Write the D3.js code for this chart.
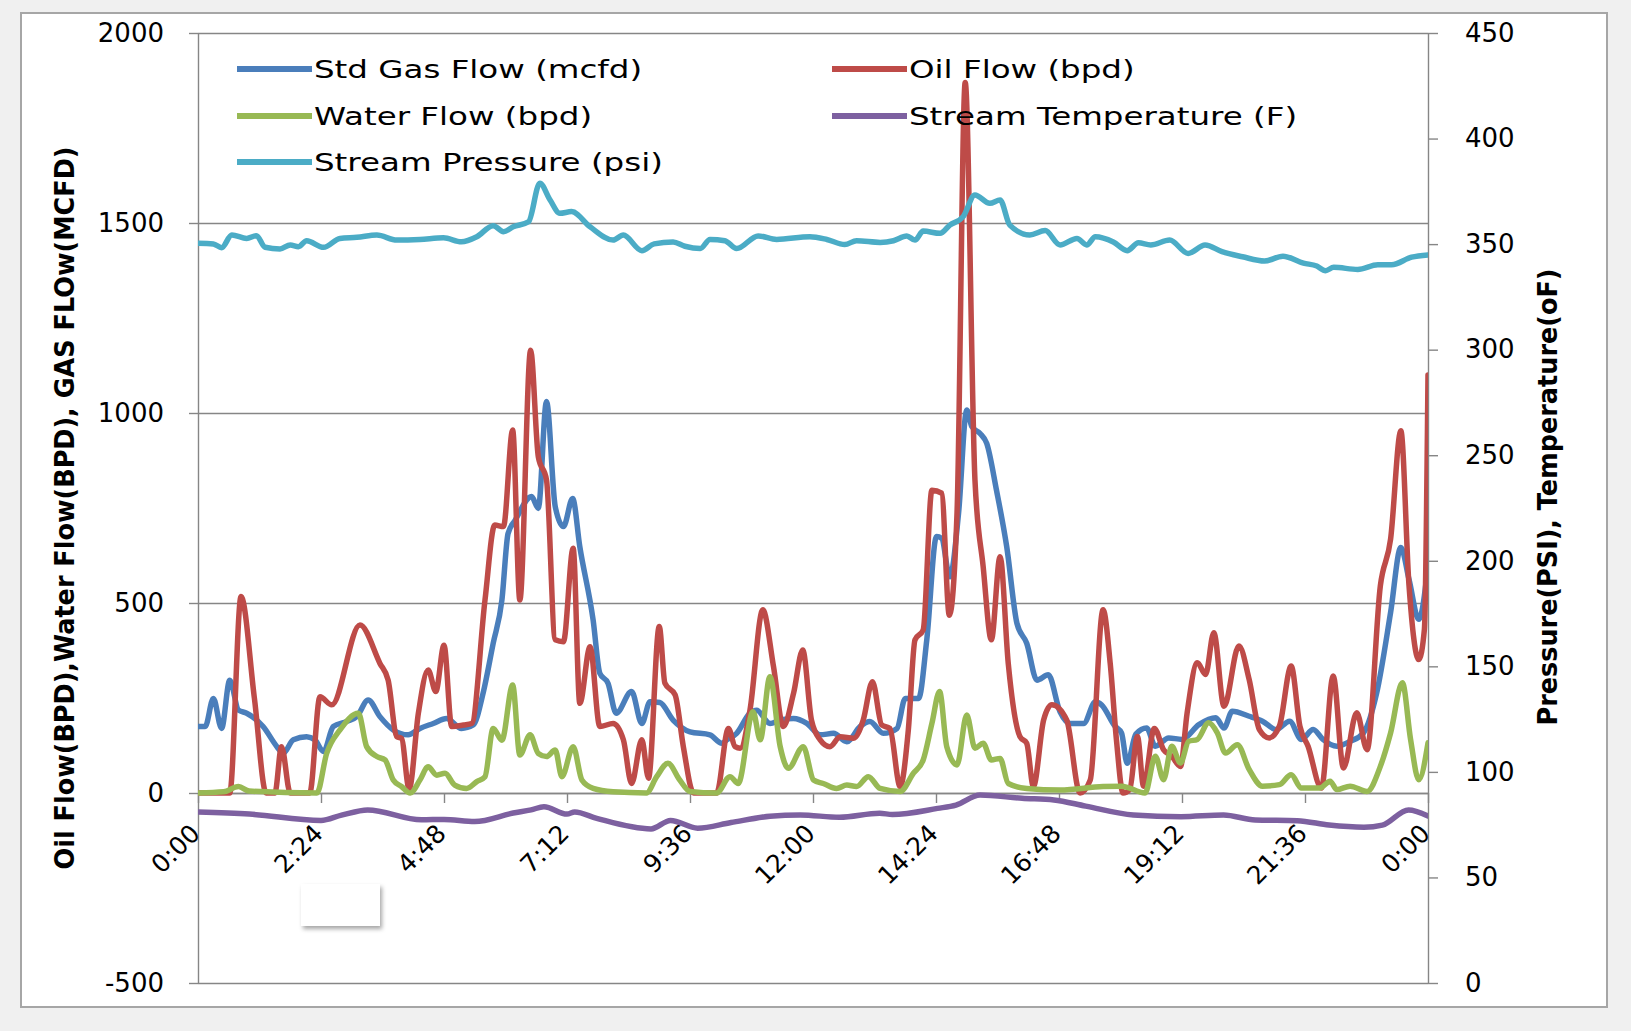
<!DOCTYPE html>
<html>
<head>
<meta charset="utf-8">
<script src="https://cdn.jsdelivr.net/npm/d3@7"></script>
<style>
body{margin:0;background:#f0f0f0;}
text{font-family:"DejaVu Sans",Verdana,sans-serif;fill:#000;}
</style>
</head>
<body>
<svg id="chart" width="1631" height="1031"></svg>
<script>
// values, [hour of day, value]
var gasFlow = [[0,175],[0.14,175],[0.3,249],[0.46,170],[0.62,297],[0.79,218],[0.95,210],[1.27,175],[1.54,122],[1.66,104],[1.86,140],[2.12,148],[2.28,140],[2.45,109],[2.64,175],[2.9,188],[3.1,201],[3.32,245],[3.55,201],[3.81,166],[4.1,153],[4.33,170],[4.59,183],[4.85,196],[5.14,170],[5.37,179],[5.57,267],[5.76,394],[5.93,508],[6.05,683],[6.19,718],[6.51,780],[6.64,749],[6.8,1030],[6.97,754],[7.13,701],[7.31,775],[7.45,648],[7.71,455],[7.84,315],[8,289],[8.16,210],[8.46,267],[8.66,183],[8.82,240],[9.01,238],[9.27,192],[9.6,161],[9.99,153],[10.22,131],[10.32,140],[10.51,157],[10.77,210],[10.9,218],[11.16,183],[11.36,192],[11.62,196],[11.88,183],[12.14,153],[12.4,157],[12.66,135],[12.92,175],[13.11,188],[13.37,157],[13.64,170],[13.8,249],[14.06,249],[14.22,403],[14.41,675],[14.51,670],[14.67,569],[14.84,736],[15,1008],[15.1,964],[15.26,946],[15.39,920],[15.58,797],[15.78,648],[15.98,446],[16.17,394],[16.37,297],[16.59,311],[16.82,214],[17.02,183],[17.28,183],[17.51,240],[17.63,232],[17.89,176],[18.02,158],[18.13,78],[18.3,155],[18.51,171],[18.68,123],[18.94,145],[19.2,141],[19.53,180],[19.86,198],[20.02,171],[20.18,215],[20.51,202],[20.77,189],[21.04,167],[21.3,189],[21.53,141],[21.76,167],[21.95,141],[22.22,123],[22.48,136],[22.74,158],[23,264],[23.27,475],[23.47,646],[23.63,562],[23.82,457],[24,598]];

var oilFlow = [[0,0],[0.62,0],[0.84,517],[1.1,250],[1.33,0],[1.5,0],[1.63,122],[1.8,0],[2.18,0],[2.38,253],[2.61,232],[3.16,442],[3.55,341],[3.71,297],[3.88,148],[3.97,144],[4.12,10],[4.3,210],[4.49,324],[4.64,267],[4.8,389],[4.95,175],[5.18,179],[5.34,183],[5.6,508],[5.79,705],[5.96,701],[6.14,955],[6.28,508],[6.49,1165],[6.64,885],[6.8,824],[6.97,403],[7.13,398],[7.32,644],[7.45,236],[7.65,385],[7.84,175],[8.1,183],[8.3,140],[8.46,25],[8.66,140],[8.79,39],[9,438],[9.11,289],[9.31,258],[9.47,122],[9.67,0],[10.12,0],[10.35,170],[10.48,122],[10.58,118],[10.77,218],[11.02,482],[11.23,332],[11.42,175],[11.62,262],[11.8,376],[11.97,192],[12.14,140],[12.33,122],[12.53,148],[12.79,144],[12.98,192],[13.16,293],[13.34,179],[13.5,170],[13.7,17],[13.86,166],[13.99,403],[14.15,429],[14.32,797],[14.51,789],[14.66,468],[14.81,736],[14.97,1870],[15.16,824],[15.32,596],[15.48,403],[15.65,622],[15.81,341],[16.04,148],[16.17,131],[16.3,17],[16.5,192],[16.66,232],[16.95,192],[17.21,0],[17.41,34],[17.66,482],[17.8,340],[17.92,141],[18.05,0],[18.18,9],[18.33,149],[18.45,18],[18.66,170],[18.84,114],[19,97],[19.17,70],[19.3,211],[19.5,343],[19.66,312],[19.82,422],[20.02,228],[20.31,387],[20.51,299],[20.71,167],[20.9,145],[21.1,176],[21.33,334],[21.5,176],[21.66,123],[21.92,13],[22.15,308],[22.35,66],[22.61,211],[22.81,114],[23.07,545],[23.27,668],[23.47,953],[23.63,545],[23.82,351],[23.93,431],[24,1100]];

var waterFlow = [[0,0],[0.5,3],[0.79,17],[1,5],[2.32,0],[2.51,104],[2.77,166],[3.13,210],[3.29,122],[3.49,96],[3.65,87],[3.81,34],[3.97,17],[4.14,0],[4.33,34],[4.49,69],[4.66,47],[4.82,52],[5.01,21],[5.24,12],[5.44,30],[5.6,43],[5.76,170],[5.93,139],[6.14,284],[6.28,100],[6.48,153],[6.64,104],[6.8,96],[6.97,113],[7.1,43],[7.32,122],[7.49,34],[7.71,12],[8.1,3],[8.75,0],[8.95,43],[9.17,78],[9.4,34],[9.6,4],[10.12,0],[10.38,43],[10.54,25],[10.83,214],[10.97,140],[11.16,306],[11.36,122],[11.52,65],[11.81,122],[12.01,34],[12.2,25],[12.46,12],[12.66,21],[12.85,17],[13.08,43],[13.31,12],[13.7,4],[13.96,52],[14.15,87],[14.32,183],[14.47,267],[14.61,122],[14.81,74],[15,205],[15.16,118],[15.32,131],[15.48,87],[15.65,91],[15.81,25],[16.17,12],[16.82,8],[17.66,17],[18.02,18],[18.48,0],[18.68,97],[18.84,35],[19,123],[19.17,79],[19.33,136],[19.5,141],[19.72,185],[19.89,158],[20.05,105],[20.28,127],[20.51,62],[20.77,18],[21.1,22],[21.33,48],[21.53,13],[21.89,13],[22.09,31],[22.22,9],[22.48,18],[22.81,4],[23.07,70],[23.27,158],[23.5,290],[23.66,141],[23.82,35],[24,132]];

var streamTemp = [[0,81],[1,80],[2.4,77],[2.8,79.5],[3.31,82],[4.36,77.3],[4.8,77.5],[5.4,76.5],[6.15,80.5],[6.5,82],[6.75,83.5],[7.2,80],[7.35,81],[7.78,78],[8.84,73],[9.22,77],[9.75,73.3],[10.4,76],[11.16,79],[11.75,79.6],[12.52,78.5],[13.3,80.4],[13.55,79.8],[14.43,82.7],[14.79,84.3],[15.26,89],[16.08,87.5],[16.7,86.7],[17.32,83.8],[18.25,79.6],[19.18,78.8],[20.01,79.6],[20.63,77.2],[21.45,76.9],[22.07,74.8],[22.75,73.8],[23.11,74.8],[23.62,82],[24,79.1]];

var streamPressure = [[0,350.4],[0.3,350.1],[0.46,348.3],[0.66,354.3],[0.95,352.7],[1.14,354],[1.31,348.5],[1.6,347.7],[1.8,349.6],[1.96,348.8],[2.12,351.6],[2.45,348.5],[2.77,352.7],[3.1,353.2],[3.49,354.3],[3.88,351.9],[4.33,352.2],[4.79,353],[5.14,351.1],[5.44,353.5],[5.76,358.7],[5.96,355.9],[6.15,358.2],[6.45,360.6],[6.67,378.8],[6.87,370.9],[7.06,364.6],[7.29,365.4],[7.65,358.2],[8.1,351.9],[8.3,354.3],[8.66,346.9],[8.9,350.1],[9.27,351],[9.5,349],[9.8,347.9],[9.99,352.2],[10.28,351.6],[10.51,347.9],[10.93,353.9],[11.29,352.2],[11.94,353.5],[12.27,352.2],[12.62,349.8],[12.85,351.6],[13.31,350.8],[13.57,351.6],[13.83,353.9],[13.99,351.9],[14.15,356.2],[14.48,355.1],[14.67,359],[14.93,363],[15.16,373.3],[15.45,369.3],[15.65,370.9],[15.84,359],[16.23,354.3],[16.53,356.4],[16.82,349.6],[17.15,352.7],[17.34,349.6],[17.51,353.5],[17.86,351],[18.13,346.9],[18.35,350.6],[18.59,349.6],[18.96,351.9],[19.32,345.6],[19.65,349.6],[19.98,346.4],[20.38,344],[20.81,342],[21.17,344.3],[21.57,341],[21.83,339.6],[22,337.4],[22.16,339],[22.63,338],[23.02,340.2],[23.29,340.2],[23.68,343.8],[24,344.9]];

var seriesNames = ["Std Gas Flow (mcfd)", "Oil Flow (bpd)", "Water Flow (bpd)", "Stream Temperature (F)", "Stream Pressure (psi)"];
var leftTicks = [-500, 0, 500, 1000, 1500, 2000];
var rightTicks = [0, 50, 100, 150, 200, 250, 300, 350, 400, 450];
var xTickHours = [0, 2.4, 4.8, 7.2, 9.6, 12, 14.4, 16.8, 19.2, 21.6, 24];
var xTickLabels = ["0:00", "2:24", "4:48", "7:12", "9:36", "12:00", "14:24", "16:48", "19:12", "21:36", "0:00"];
var leftTitle = "Oil Flow(BPD),Water Flow(BPD), GAS FLOw(MCFD)";
var rightTitle = "Pressure(PSI), Temperature(oF)";

var colors = ["#4a7ebb", "#be4b48", "#98b954", "#7d60a0", "#4bacc6"];

var svg = d3.select("#chart"),
margin = {top: 33, right: 203, bottom: 48, left: 198},
width = +svg.attr("width") - margin.left - margin.right,
height = +svg.attr("height") - margin.top - margin.bottom;

// chart frame
svg.append("rect")
   .attr("x", 21).attr("y", 13)
   .attr("width", 1586).attr("height", 994)
   .attr("fill", "#fff")
   .attr("stroke", "#a6a6a6")
   .attr("stroke-width", 2);

var defs = svg.append("defs");
defs.append("clipPath").attr("id", "plot-clip")
    .append("rect").attr("width", width).attr("height", height);
defs.append("filter").attr("id", "shadow")
    .attr("x", "-20%").attr("y", "-20%").attr("width", "150%").attr("height", "160%")
    .append("feDropShadow")
    .attr("dx", 2).attr("dy", 3).attr("stdDeviation", 2)
    .attr("flood-color", "#000").attr("flood-opacity", 0.35);

var g = svg.append("g").attr("transform", "translate(" + margin.left + "," + margin.top + ")");

var x = d3.scaleLinear().domain([0, 24]).range([0, width]);
var yL = d3.scaleLinear().domain([-500, 2000]).range([height, 0]);
var yR = d3.scaleLinear().domain([0, 450]).range([height, 0]);

function plain(d){ return String(d); }

// gridlines
g.append("g")
   .attr("class", "grid")
   .call(d3.axisLeft(yL).tickValues(leftTicks).tickSize(-width).tickFormat(""))
   .call(function(s){ s.select(".domain").remove(); })
   .selectAll("line")
   .attr("stroke", "#868686")
   .attr("stroke-width", 1.4);

// left axis
g.append("g")
   .attr("class", "axis axis--y")
   .call(d3.axisLeft(yL).tickValues(leftTicks).tickFormat(plain).tickSize(9).tickSizeOuter(0).tickPadding(25))
   .call(function(s){
     s.selectAll("line, path").attr("stroke", "#868686").attr("stroke-width", 1.4);
     s.selectAll("text").attr("font-size", 26).attr("font-family", "DejaVu Sans");
   });

// right axis
g.append("g")
   .attr("class", "axis axis--y2")
   .attr("transform", "translate(" + width + ",0)")
   .call(d3.axisRight(yR).tickValues(rightTicks).tickFormat(plain).tickSize(10).tickSizeOuter(0).tickPadding(27))
   .call(function(s){
     s.selectAll("line, path").attr("stroke", "#868686").attr("stroke-width", 1.4);
     s.selectAll("text").attr("font-size", 26).attr("font-family", "DejaVu Sans");
   });

// x axis on the zero line
g.append("g")
   .attr("class", "axis axis--x")
   .attr("transform", "translate(0," + yL(0) + ")")
   .call(d3.axisBottom(x).tickValues(xTickHours).tickSize(10).tickSizeOuter(0)
         .tickFormat(function(d, i){ return xTickLabels[i]; }))
   .call(function(s){
     s.selectAll("line, path").attr("stroke", "#868686").attr("stroke-width", 1.4);
     s.selectAll("text")
      .attr("font-size", 25)
      .attr("font-family", "DejaVu Sans")
      .attr("x", 0).attr("y", 0).attr("dy", 0)
      .attr("text-anchor", "end")
      .attr("transform", "translate(3,42) rotate(-45)");
   });

// series lines
var series = [gasFlow, oilFlow, waterFlow, streamTemp, streamPressure];
var onRight = [false, false, false, true, true];

var lines = g.append("g").attr("clip-path", "url(#plot-clip)");
series.forEach(function(data, i){
  var yScale = onRight[i] ? yR : yL;
  var line = d3.line()
      .x(function(d){ return x(d[0]); })
      .y(function(d){ return yScale(d[1]); })
      .curve(d3.curveMonotoneX);
  lines.append("path")
       .datum(data)
       .attr("fill", "none")
       .attr("stroke", colors[i])
       .attr("stroke-width", 5.5)
       .attr("stroke-linejoin", "round")
       .attr("stroke-linecap", "round")
       .attr("d", line);
});

// legend
var legendRows = [69, 116, 162];
var legendCols = [237, 832];
var legend = svg.append("g").attr("class", "legend");
seriesNames.forEach(function(name, i){
  var cx = legendCols[i % 2], cy = legendRows[Math.floor(i / 2)];
  var item = legend.append("g").attr("transform", "translate(" + cx + "," + cy + ")");
  item.append("line")
      .attr("x1", 0).attr("x2", 75)
      .attr("stroke", colors[i])
      .attr("stroke-width", 6);
  item.append("text")
      .attr("transform", "translate(77,0) scale(1.3,1)")
      .attr("dy", "0.36em")
      .attr("font-size", 25)
      .text(name);
});

// axis titles
svg.append("text")
   .attr("transform", "translate(64,508) rotate(-90)")
   .attr("text-anchor", "middle")
   .attr("dy", "0.36em")
   .attr("font-size", 27)
   .attr("font-weight", "bold")
   .attr("textLength", 723)
   .attr("lengthAdjust", "spacingAndGlyphs")
   .text(leftTitle);

svg.append("text")
   .attr("transform", "translate(1547,497) rotate(-90)")
   .attr("text-anchor", "middle")
   .attr("dy", "0.36em")
   .attr("font-size", 27)
   .attr("font-weight", "bold")
   .attr("textLength", 457)
   .attr("lengthAdjust", "spacingAndGlyphs")
   .text(rightTitle);

// stray blank box that sits under the axis labels in the original
svg.append("rect")
   .attr("x", 301).attr("y", 884)
   .attr("width", 79).attr("height", 42)
   .attr("fill", "#fff")
   .attr("filter", "url(#shadow)");
</script>
</body>
</html>
